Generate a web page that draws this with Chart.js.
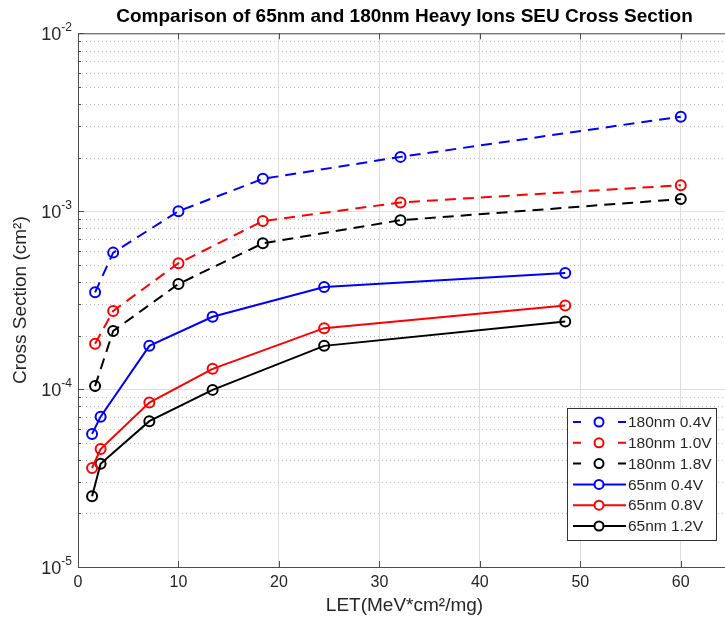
<!DOCTYPE html>
<html>
<head>
<meta charset="utf-8">
<script src="https://cdn.jsdelivr.net/npm/chart.js@4.4.0/dist/chart.umd.min.js"></script>
<style>
  html, body { margin: 0; padding: 0; background: #fff; overflow: hidden; }
  #wrap { width: 740px; height: 624px; }
</style>
</head>
<body>
<div id="wrap"><canvas id="seuChart" width="740" height="624"></canvas></div>
<script>
// LET values (MeV*cm2/mg)
const let180 = [1.7, 3.5, 10.0, 18.4, 32.1, 60.0];
const let65 = [1.4, 2.25, 7.1, 13.4, 24.5, 48.5];

// cross sections (cm2)
const xs180_04 = [3.5e-4, 5.85e-4, 1.0e-3, 1.52e-3, 2.02e-3, 3.4e-3];
const xs180_10 = [1.8e-4, 2.75e-4, 5.1e-4, 8.8e-4, 1.12e-3, 1.4e-3];
const xs180_18 = [1.04e-4, 2.12e-4, 3.9e-4, 6.6e-4, 8.9e-4, 1.17e-3];
const xs65_04 = [5.6e-5, 7.0e-5, 1.75e-4, 2.55e-4, 3.75e-4, 4.5e-4];
const xs65_08 = [3.6e-5, 4.6e-5, 8.4e-5, 1.3e-4, 2.2e-4, 2.95e-4];
const xs65_12 = [2.5e-5, 3.8e-5, 6.6e-5, 9.9e-5, 1.75e-4, 2.4e-4];

const xTicks = [0, 10, 20, 30, 40, 50, 60];
const yDecades = [-5, -4, -3, -2];

const FONT = 'Liberation Sans, Arial, sans-serif';
const TXT = '#262626';
const DASH = [11, 7];

function pts(xs, ys) {
    return xs.map((x, i) => ({ x: x, y: ys[i] }));
}

function series(label, xs, ys, color, dashed) {
    return {
        label: label,
        data: pts(xs, ys),
        borderColor: color,
        backgroundColor: 'rgba(0,0,0,0)',
        borderWidth: 2,
        borderDash: dashed ? DASH : [],
        pointStyle: 'circle',
        pointRadius: 5,
        pointBorderWidth: 2,
        pointBorderColor: color,
        pointBackgroundColor: 'rgba(0,0,0,0)',
        pointHoverRadius: 5,
        tension: 0
    };
}

// grid, box, inward ticks and y labels in MATLAB style
const axesPlugin = {
    id: 'axesPlugin',
    beforeDatasetsDraw(chart) {
        const ctx = chart.ctx;
        const a = chart.chartArea;
        const y = chart.scales.y;
        ctx.save();
        ctx.lineWidth = 1;
        yDecades.forEach(d => {
            if (d < yDecades[yDecades.length - 1]) {
                for (let k = 2; k <= 9; k++) {
                    const py = Math.round(y.getPixelForValue(k * Math.pow(10, d))) + 0.5;
                    ctx.strokeStyle = '#bdbdbd';
                    ctx.setLineDash([1, 3]);
                    ctx.beginPath();
                    ctx.moveTo(a.left, py);
                    ctx.lineTo(a.right, py);
                    ctx.stroke();
                }
            }
            const py = Math.round(y.getPixelForValue(Math.pow(10, d))) + 0.5;
            ctx.setLineDash([]);
            ctx.strokeStyle = '#dedede';
            ctx.beginPath();
            ctx.moveTo(a.left, py);
            ctx.lineTo(a.right, py);
            ctx.stroke();
        });
        ctx.restore();
    },
    afterDatasetsDraw(chart) {
        const ctx = chart.ctx;
        const a = chart.chartArea;
        const x = chart.scales.x;
        const y = chart.scales.y;
        ctx.save();
        ctx.setLineDash([]);
        ctx.strokeStyle = '#4d4d4d';
        ctx.lineWidth = 1;
        ctx.strokeRect(a.left + 0.5, a.top + 0.5, a.right - a.left, a.bottom - a.top);

        ctx.beginPath();
        xTicks.forEach(v => {
            const px = Math.round(x.getPixelForValue(v)) + 0.5;
            ctx.moveTo(px, a.bottom);
            ctx.lineTo(px, a.bottom - 6);
            ctx.moveTo(px, a.top);
            ctx.lineTo(px, a.top + 6);
        });
        yDecades.forEach(d => {
            const py = Math.round(y.getPixelForValue(Math.pow(10, d))) + 0.5;
            ctx.moveTo(a.left, py);
            ctx.lineTo(a.left + 6, py);
            if (d < yDecades[yDecades.length - 1]) {
                for (let k = 2; k <= 9; k++) {
                    const pm = Math.round(y.getPixelForValue(k * Math.pow(10, d))) + 0.5;
                    ctx.moveTo(a.left, pm);
                    ctx.lineTo(a.left + 3, pm);
                }
            }
        });
        ctx.stroke();

        // y tick labels 10^n
        ctx.fillStyle = TXT;
        ctx.textBaseline = 'alphabetic';
        yDecades.forEach(d => {
            const py = y.getPixelForValue(Math.pow(10, d));
            const exp = String(d);
            ctx.font = '12px ' + FONT;
            const we = ctx.measureText(exp).width;
            const right = a.left - 6;
            ctx.textAlign = 'right';
            ctx.fillText(exp, right, py - 2);
            ctx.font = '18px ' + FONT;
            ctx.fillText('10', right - we, py + 7);
        });
        ctx.restore();
    }
};

// legend box inside the axes, lower right
const legendPlugin = {
    id: 'legendPlugin',
    afterDraw(chart) {
        const ctx = chart.ctx;
        const bx = 567, by = 408, bw = 149, bh = 132;
        const rowY0 = 422, rowStep = 20.8;
        ctx.save();
        ctx.fillStyle = '#fff';
        ctx.fillRect(bx, by, bw, bh);
        ctx.strokeStyle = '#333';
        ctx.lineWidth = 1;
        ctx.strokeRect(bx + 0.5, by + 0.5, bw, bh);
        chart.data.datasets.forEach((ds, i) => {
            const ry = rowY0 + i * rowStep;
            const dashed = ds.borderDash.length > 0;
            ctx.strokeStyle = ds.borderColor;
            ctx.lineWidth = 2;
            ctx.setLineDash([]);
            ctx.beginPath();
            if (dashed) {
                ctx.moveTo(573, ry); ctx.lineTo(581, ry);
                ctx.moveTo(618, ry); ctx.lineTo(626, ry);
            } else {
                ctx.moveTo(573, ry); ctx.lineTo(626, ry);
            }
            ctx.stroke();
            ctx.beginPath();
            ctx.arc(599, ry, 4.5, 0, Math.PI * 2);
            ctx.fillStyle = '#fff';
            ctx.fill();
            ctx.stroke();
            ctx.fillStyle = TXT;
            ctx.font = '15.5px ' + FONT;
            ctx.textAlign = 'left';
            ctx.textBaseline = 'middle';
            ctx.fillText(ds.label, 628, ry + 1);
        });
        ctx.restore();
    }
};

document.addEventListener('DOMContentLoaded', function() {
    const canvas = document.getElementById('seuChart');
    new Chart(canvas, {
        type: 'line',
        data: {
            datasets: [
                series('180nm 0.4V', let180, xs180_04, '#0000ff', true),
                series('180nm 1.0V', let180, xs180_10, '#ff0000', true),
                series('180nm 1.8V', let180, xs180_18, '#000000', true),
                series('65nm 0.4V', let65, xs65_04, '#0000ff', false),
                series('65nm 0.8V', let65, xs65_08, '#ff0000', false),
                series('65nm 1.2V', let65, xs65_12, '#000000', false)
            ]
        },
        options: {
            responsive: false,
            animation: false,
            layout: { padding: { left: 0, right: 9, top: 0, bottom: 0 } },
            plugins: {
                legend: { display: false },
                tooltip: { enabled: false },
                title: {
                    display: true,
                    fullSize: false,
                    text: 'Comparison of 65nm and 180nm Heavy Ions SEU Cross Section',
                    color: '#000',
                    font: { family: FONT, size: 19, weight: 'bold' },
                    padding: { top: 5, bottom: 5.5 }
                }
            },
            scales: {
                x: {
                    type: 'linear',
                    min: 0,
                    max: 65,
                    afterBuildTicks: scale => {
                        scale.ticks = xTicks.map(v => ({ value: v }));
                    },
                    afterFit: scale => { scale.height = 57; },
                    ticks: {
                        color: TXT,
                        font: { family: FONT, size: 16 },
                        padding: 6,
                        maxRotation: 0
                    },
                    grid: { color: '#dedede', drawTicks: false },
                    border: { display: false },
                    title: {
                        display: true,
                        text: 'LET(MeV*cm²/mg)',
                        color: TXT,
                        font: { family: FONT, size: 19 },
                        padding: { top: 0, bottom: 7 }
                    }
                },
                y: {
                    type: 'logarithmic',
                    min: 1e-5,
                    max: 1e-2,
                    afterFit: scale => { scale.width = 78; },
                    ticks: { display: false },
                    grid: { display: false, drawTicks: false },
                    border: { display: false },
                    title: {
                        display: true,
                        text: 'Cross Section (cm²)',
                        color: TXT,
                        font: { family: FONT, size: 19 },
                        padding: { top: 9, bottom: 0 }
                    }
                }
            }
        },
        plugins: [axesPlugin, legendPlugin]
    });
});
</script>
</body>
</html>
